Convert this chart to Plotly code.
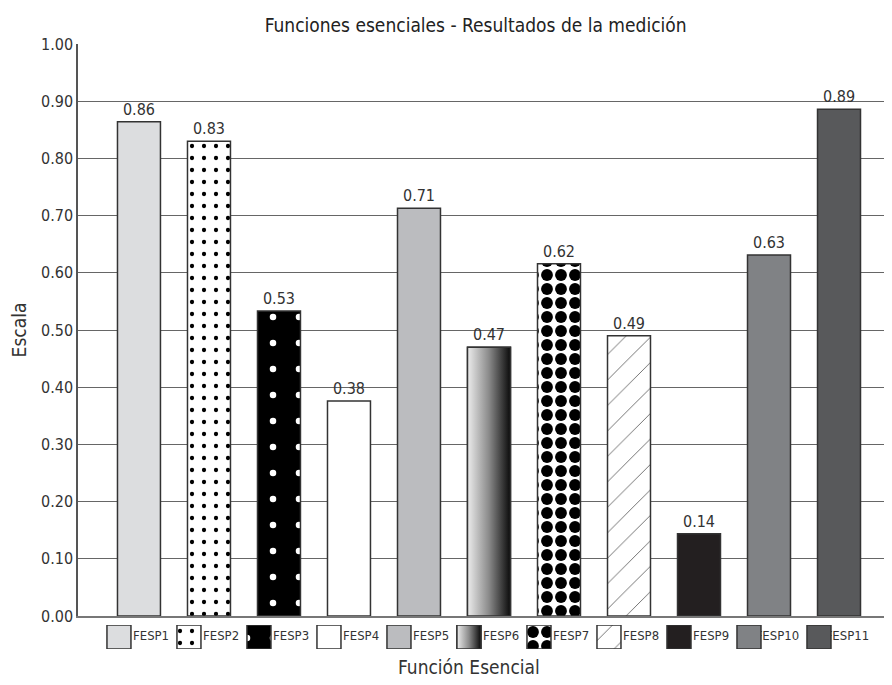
import plotly.graph_objects as go

categories = ["FESP1", "FESP2", "FESP3", "FESP4", "FESP5", "FESP6",
              "FESP7", "FESP8", "FESP9", "FESP10", "FESP11"]
values = [0.864, 0.83, 0.533, 0.376, 0.713, 0.47, 0.616, 0.49, 0.144, 0.631, 0.886]
y_ticks = [0.0, 0.1, 0.2, 0.3, 0.4, 0.5, 0.6, 0.7, 0.8, 0.9, 1.0]

colors = ["#dcdddf", "#ffffff", "#000000", "#ffffff", "#bbbcbf", "#888888",
          "#ffffff", "#ffffff", "#231f20", "#808285", "#58595b"]
p_shape = ["", ".", ".", "", "", "", ".", "/", "", "", ""]
p_fg = ["#000", "#000", "#fff", "#000", "#000", "#000", "#000", "#222", "#000", "#000", "#000"]
p_size = [10, 12, 26, 10, 10, 10, 14, 18, 10, 10, 10]
p_sol = [0.3, 0.1, 0.05, 0.3, 0.3, 0.3, 0.56, 0.035, 0.3, 0.3, 0.3]

FONT = "DejaVu Sans Condensed, Liberation Sans Narrow, sans-serif"
xs = list(range(len(categories)))
bar_w = 0.614
sw_off = -0.286
sw_w = 0.343
lab_off = 0.43
g = categories.index("FESP6")

fig = go.Figure()


def marker_for(i):
    m = dict(color=colors[i], line=dict(color="#333333", width=1.5))
    if p_shape[i]:
        m["pattern"] = dict(shape=p_shape[i], fgcolor=p_fg[i], bgcolor=colors[i],
                            size=p_size[i], solidity=p_sol[i], fillmode="replace")
    return m


for i, (c, v) in enumerate(zip(categories, values)):
    fig.add_trace(go.Bar(
        x=[i], y=[v], width=bar_w, marker=marker_for(i),
        text=[f"{v:.2f}"], textposition="outside",
        textfont=dict(family=FONT, size=16, color="#333333"),
        cliponaxis=False, showlegend=False, hoverinfo="skip", name=c,
        xaxis="x", yaxis="y"))
    fig.add_trace(go.Bar(
        x=[i + sw_off], y=[1], width=sw_w, marker=marker_for(i),
        showlegend=False, hoverinfo="skip", name=c, xaxis="x2", yaxis="y2"))

# gradient for FESP6 (bar and swatch)
grad = dict(type="horizontal", colorscale=[[0, "#ececec"], [0.5, "#8a8a8a"], [1, "#0a0a0a"]])
x0, x1 = g - bar_w / 2, g + bar_w / 2
fig.add_trace(go.Scatter(
    x=[x0, x1, x1, x0, x0], y=[0, 0, values[g], values[g], 0], mode="lines",
    fill="toself", fillgradient=grad, line=dict(color="#333333", width=1.5),
    showlegend=False, hoverinfo="skip", xaxis="x", yaxis="y"))
s0, s1 = g + sw_off - sw_w / 2, g + sw_off + sw_w / 2
fig.add_trace(go.Scatter(
    x=[s0, s1, s1, s0, s0], y=[0, 0, 1, 1, 0], mode="lines",
    fill="toself", fillgradient=grad, line=dict(color="#333333", width=1.5),
    showlegend=False, hoverinfo="skip", xaxis="x2", yaxis="y2"))

xr = [-0.871, 10.757]
# page body has an 8px margin; the figure is sized so the plot lands where the reference has it
H, W = 677, 884
mt, mb = 36, 36
ph = H - mt - mb
annotations = [dict(x=0.48, y=-((659 - (H - mb)) / ph), xref="paper", yref="paper",
                    text="Función Esencial", showarrow=False, xanchor="center",
                    yanchor="middle",
                    font=dict(family=FONT, size=19, color="#333333"))]

fig.update_layout(
    width=W, height=H,
    margin=dict(l=70, r=0, t=mt, b=mb, autoexpand=False),
    plot_bgcolor="#ffffff", paper_bgcolor="#ffffff",
    font=dict(family=FONT, color="#333333"),
    title=dict(text="Funciones esenciales - Resultados de la medición",
               x=0.529, xanchor="center", y=1 - 17 / H, yanchor="middle",
               font=dict(family=FONT, size=19, color="#222222")),
    barmode="overlay",
    xaxis=dict(range=xr, showticklabels=False, ticks="", showgrid=False,
               zeroline=False, showline=True, linecolor="#777777", linewidth=1.5,
               anchor="y", automargin=False),
    yaxis=dict(range=[0, 1], domain=[33 / ph, 1],
               tickvals=y_ticks, tickformat=".2f",
               tickfont=dict(family=FONT, size=16, color="#333333"),
               showgrid=True, gridcolor="#666666", gridwidth=1.3,
               zeroline=False, showline=True, linecolor="#555555", linewidth=1.5,
               ticks="", automargin=False,
               title=dict(text="Escala", font=dict(family=FONT, size=19, color="#333333"),
                          standoff=9)),
    xaxis2=dict(range=xr, anchor="y2", automargin=False, showgrid=False,
                zeroline=False, showline=False, ticks="",
                tickvals=[i + lab_off for i in xs], ticktext=categories,
                ticklabelposition="inside left", layer="below traces",
                tickfont=dict(family=FONT, size=13, color="#333333")),
    yaxis2=dict(range=[0, 1], domain=[0, 24 / ph], visible=False, anchor="x2",
                automargin=False),
    annotations=annotations,
)

fig.write_html("out.html")
